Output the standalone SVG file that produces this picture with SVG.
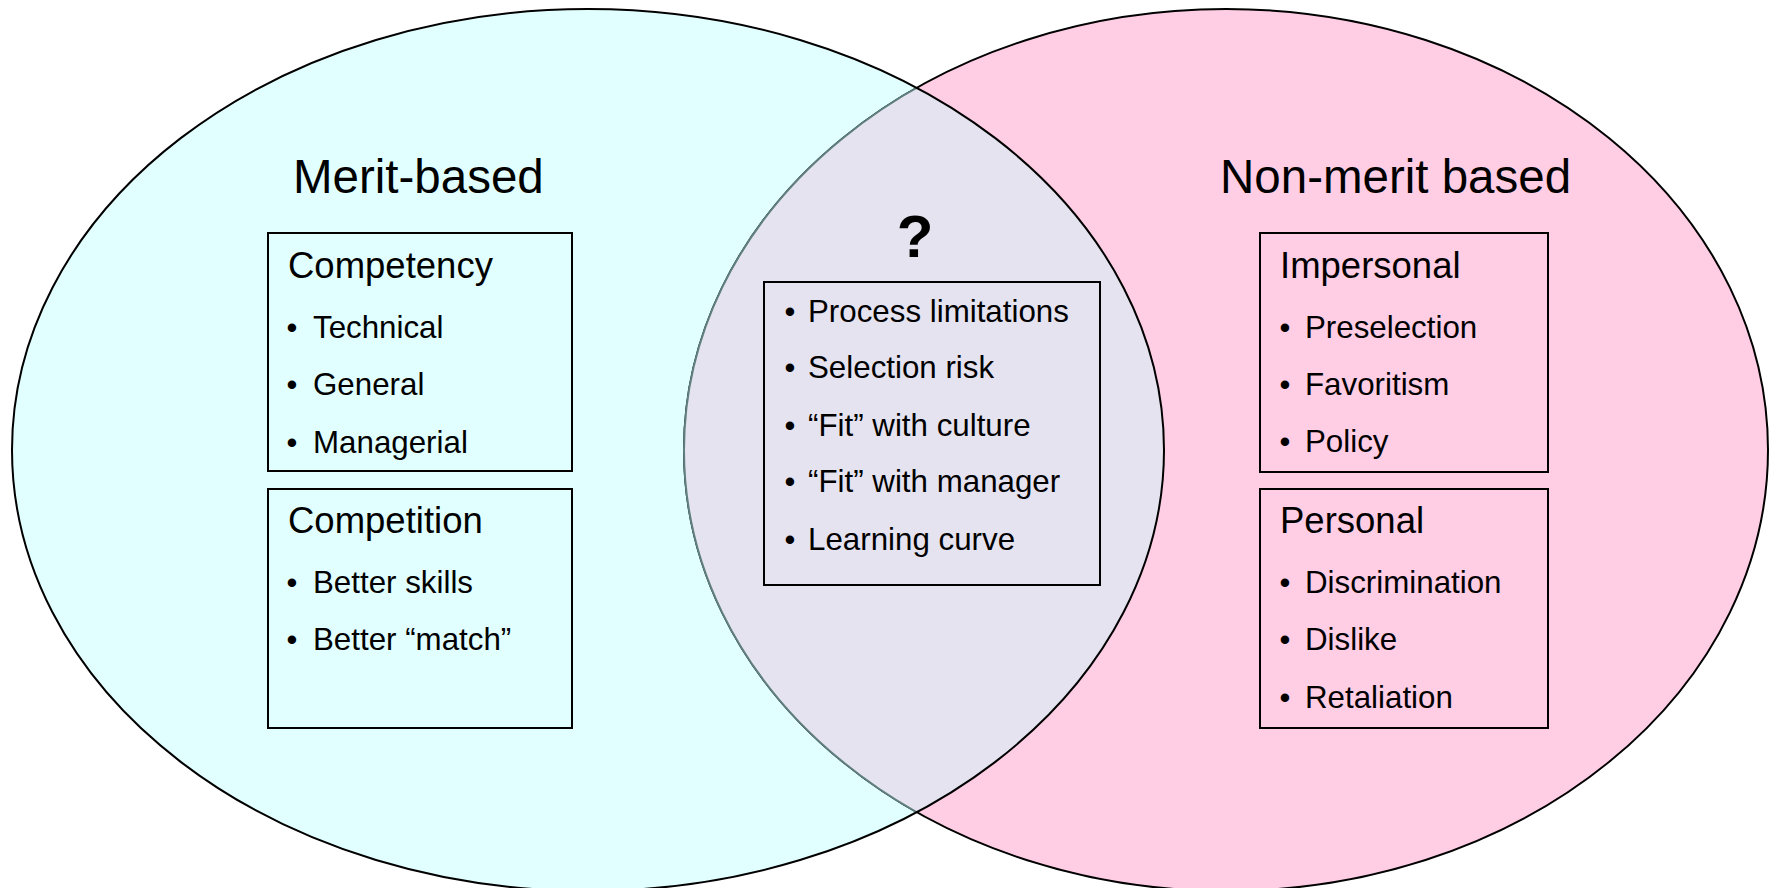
<svg xmlns="http://www.w3.org/2000/svg" width="1775" height="888" viewBox="0 0 1775 888">
<style>
text{font-family:"Liberation Sans",Arial,sans-serif;fill:#000}
.title{font-size:47.5px}
.head{font-size:36.5px}
.item{font-size:31.3px}
.bul{font-size:31px;text-anchor:middle}
.box{fill:none;stroke:#000;stroke-width:2}
</style>
<defs>
<clipPath id="leftClip"><ellipse cx="588" cy="450" rx="576" ry="441"/></clipPath>
</defs>
<rect width="1775" height="888" fill="#fff"/>
<g id="sets">
<ellipse id="merit-fill" cx="588" cy="450" rx="576" ry="441" fill="#E1FFFF"/>
<ellipse id="nonmerit-set" cx="1226" cy="450" rx="542" ry="441" fill="#FFCDE4" stroke="#000" stroke-width="2"/>
<ellipse id="overlap" cx="1226" cy="450" rx="542" ry="441" fill="#E5E3F0" stroke="#607F7F" stroke-width="2" clip-path="url(#leftClip)"/>
<ellipse id="merit-outline" cx="588" cy="450" rx="576" ry="441" fill="none" stroke="#000" stroke-width="2"/>
</g>
<g id="merit-title"><text class="title" x="293" y="193">Merit-based</text></g>
<g id="nonmerit-title"><text class="title" x="1220" y="193">Non-merit based</text></g>
<g id="question"><text x="915" y="257" font-size="60" font-weight="bold" text-anchor="middle">?</text></g>
<g id="competency">
<rect class="box" x="268" y="233" width="304" height="238"/>
<text class="head" x="288" y="278">Competency</text>
<text class="bul" x="292" y="338">•</text><text class="item" x="313" y="338">Technical</text>
<text class="bul" x="292" y="395">•</text><text class="item" x="313" y="395">General</text>
<text class="bul" x="292" y="453">•</text><text class="item" x="313" y="453">Managerial</text>
</g>
<g id="competition">
<rect class="box" x="268" y="489" width="304" height="239"/>
<text class="head" x="288" y="533">Competition</text>
<text class="bul" x="292" y="593">•</text><text class="item" x="313" y="593">Better skills</text>
<text class="bul" x="292" y="650">•</text><text class="item" x="313" y="650">Better “match”</text>
</g>
<g id="overlap-factors">
<rect class="box" x="764" y="282" width="336" height="303"/>
<text class="bul" x="790" y="322">•</text><text class="item" x="808" y="322">Process limitations</text>
<text class="bul" x="790" y="378">•</text><text class="item" x="808" y="378">Selection risk</text>
<text class="bul" x="790" y="436">•</text><text class="item" x="808" y="436">“Fit” with culture</text>
<text class="bul" x="790" y="492">•</text><text class="item" x="808" y="492">“Fit” with manager</text>
<text class="bul" x="790" y="550">•</text><text class="item" x="808" y="550">Learning curve</text>
</g>
<g id="impersonal">
<rect class="box" x="1260" y="233" width="288" height="239"/>
<text class="head" x="1280" y="278">Impersonal</text>
<text class="bul" x="1285" y="338">•</text><text class="item" x="1305" y="338">Preselection</text>
<text class="bul" x="1285" y="395">•</text><text class="item" x="1305" y="395">Favoritism</text>
<text class="bul" x="1285" y="452">•</text><text class="item" x="1305" y="452">Policy</text>
</g>
<g id="personal">
<rect class="box" x="1260" y="489" width="288" height="239"/>
<text class="head" x="1280" y="533">Personal</text>
<text class="bul" x="1285" y="593">•</text><text class="item" x="1305" y="593">Discrimination</text>
<text class="bul" x="1285" y="650">•</text><text class="item" x="1305" y="650">Dislike</text>
<text class="bul" x="1285" y="708">•</text><text class="item" x="1305" y="708">Retaliation</text>
</g>
<g id="connectors"/>
</svg>
